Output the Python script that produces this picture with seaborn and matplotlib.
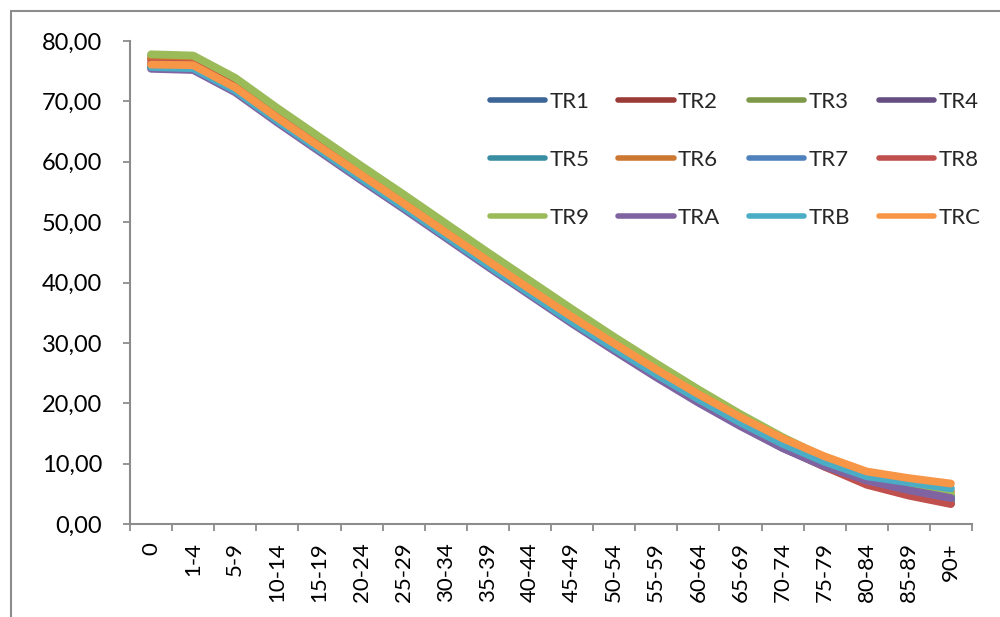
import numpy as np
import pandas as pd
import matplotlib
matplotlib.use("Agg")
import matplotlib.pyplot as plt
from matplotlib.ticker import FuncFormatter, FixedLocator
from matplotlib.lines import Line2D
import seaborn as sns

# Age groups on the horizontal axis
age_groups = ["0", "1-4", "5-9", "10-14", "15-19", "20-24", "25-29", "30-34",
              "35-39", "40-44", "45-49", "50-54", "55-59", "60-64", "65-69",
              "70-74", "75-79", "80-84", "85-89", "90+"]

# Life expectancy per region, one list per series
tr1 = [75.9, 75.7, 72.0, 67.0, 62.2, 57.4, 52.7, 47.9, 43.1, 38.4, 33.7, 29.2, 24.8, 20.6, 16.6, 12.9, 9.7, 7.0, 5.3, 4.1]
tr2 = [76.9, 76.7, 73.0, 68.0, 63.2, 58.4, 53.7, 48.9, 44.1, 39.4, 34.6, 30.1, 25.6, 21.3, 17.1, 13.3, 9.9, 7.0, 4.9, 3.4]
tr3 = [77.6, 77.4, 73.7, 68.7, 63.9, 59.1, 54.4, 49.6, 44.8, 40.1, 35.4, 30.8, 26.4, 22.1, 18.0, 14.2, 10.8, 8.0, 6.0, 4.7]
tr4 = [75.6, 75.4, 71.7, 66.7, 61.9, 57.1, 52.4, 47.6, 42.8, 38.1, 33.4, 28.9, 24.5, 20.3, 16.3, 12.6, 9.5, 6.9, 5.2, 4.0]
tr5 = [76.2, 76.0, 72.3, 67.3, 62.5, 57.7, 53.0, 48.2, 43.4, 38.7, 34.0, 29.5, 25.1, 20.9, 16.9, 13.2, 10.0, 7.3, 5.7, 4.6]
tr6 = [77.1, 76.9, 73.2, 68.2, 63.4, 58.6, 53.9, 49.1, 44.3, 39.6, 34.9, 30.4, 26.0, 21.8, 17.8, 14.0, 10.8, 8.1, 6.5, 5.4]
tr7 = [75.8, 75.6, 71.9, 66.9, 62.1, 57.3, 52.6, 47.8, 43.0, 38.3, 33.6, 29.1, 24.7, 20.5, 16.5, 12.8, 9.6, 6.9, 5.1, 3.9]
tr8 = [76.3, 76.1, 72.4, 67.4, 62.6, 57.8, 53.1, 48.3, 43.5, 38.8, 34.0, 29.5, 25.0, 20.7, 16.6, 12.8, 9.5, 6.5, 4.7, 3.3]
tr9 = [77.8, 77.6, 73.9, 68.9, 64.1, 59.3, 54.6, 49.8, 45.0, 40.3, 35.6, 31.0, 26.6, 22.3, 18.2, 14.4, 11.0, 8.3, 6.4, 5.0]
tra = [75.4, 75.2, 71.5, 66.5, 61.7, 56.9, 52.2, 47.4, 42.6, 37.9, 33.2, 28.7, 24.3, 20.1, 16.2, 12.6, 9.6, 7.2, 5.6, 4.3]
trb = [75.7, 75.5, 71.8, 66.8, 62.0, 57.2, 52.5, 47.7, 42.9, 38.2, 33.5, 29.1, 24.8, 20.7, 16.8, 13.3, 10.3, 7.9, 6.9, 5.9]
trc = [76.1, 76.0, 72.3, 67.3, 62.5, 57.8, 53.1, 48.3, 43.6, 38.9, 34.3, 29.9, 25.6, 21.5, 17.7, 14.2, 11.2, 8.7, 7.6, 6.7]

series_names = ["TR1", "TR2", "TR3", "TR4", "TR5", "TR6",
                "TR7", "TR8", "TR9", "TRA", "TRB", "TRC"]
series_values = [tr1, tr2, tr3, tr4, tr5, tr6, tr7, tr8, tr9, tra, trb, trc]

colors = ["#3C6698", "#9B3B38", "#7E9A48", "#664E82", "#3A8EA2", "#CC7833",
          "#4F81BD", "#C0504D", "#9BBB59", "#8064A2", "#4BACC6", "#F79646"]

y_ticks = [0, 10, 20, 30, 40, 50, 60, 70, 80]

df = pd.DataFrame({
    "age": age_groups * len(series_names),
    "value": [v for vals in series_values for v in vals],
    "series": [n for n in series_names for _ in age_groups],
})

sns.set_theme(style="white")
plt.rcParams["font.family"] = ["Lato", "DejaVu Sans"]

grey = "#8C8C8C"
fs = 16

fig = plt.figure(figsize=(10, 6.17), dpi=100)
ax = fig.add_axes([0.130, 0.1507, 0.842, 0.7828])

sns.lineplot(data=df, x="age", y="value", hue="series", hue_order=series_names,
             palette=colors, linewidth=5.6, sort=False, legend=False, ax=ax)
for ln in ax.get_lines():
    ln.set_solid_capstyle("round")
    ln.set_solid_joinstyle("round")

ax.set_xlim(-0.5, len(age_groups) - 0.5)
ax.set_ylim(0, 80)
ax.set_xlabel("")
ax.set_ylabel("")

ax.yaxis.set_major_locator(FixedLocator(y_ticks))
ax.yaxis.set_major_formatter(FuncFormatter(lambda v, p: f"{v:.2f}".replace(".", ",")))
ax.set_xticks(range(len(age_groups)))
ax.set_xticklabels(age_groups, rotation=90)
ax.set_xticks(np.arange(-0.5, len(age_groups)), minor=True)

ax.tick_params(axis="y", which="major", length=5, width=1.3, color=grey,
               direction="out", pad=15, labelsize=17, labelcolor="black", left=True)
ax.tick_params(axis="x", which="major", length=0, pad=13, labelsize=fs,
               labelcolor="black", bottom=True)
ax.tick_params(axis="x", which="minor", length=5, width=1.3, color=grey,
               direction="out", bottom=True)

for side in ["top", "right"]:
    ax.spines[side].set_visible(False)
for side in ["left", "bottom"]:
    ax.spines[side].set_color(grey)
    ax.spines[side].set_linewidth(1.5)
ax.grid(False)

# Legend laid out row by row (4 per row)
ncol = 4
nrow = 3
order = [r * ncol + c for c in range(ncol) for r in range(nrow)]
handles = [Line2D([], [], color=colors[i], linewidth=4, solid_capstyle="round")
           for i in order]
labels = [series_names[i] for i in order]
ax.legend(handles, labels, ncol=ncol, loc="upper left",
          bbox_to_anchor=(0.4276, 0.895), frameon=False, fontsize=fs,
          handlelength=2.48, handletextpad=0.2, columnspacing=1.3,
          labelspacing=1.72, borderpad=0, borderaxespad=0)

# Chart-area frame
fig.add_artist(Line2D([0.011, 0.011], [0.0, 1 - 11 / 617], transform=fig.transFigure,
                      color=grey, linewidth=1.5))
fig.add_artist(Line2D([0.011, 1.0], [1 - 11 / 617, 1 - 11 / 617], transform=fig.transFigure,
                      color=grey, linewidth=1.5))

fig.savefig("out.png", dpi=100, facecolor="white")
